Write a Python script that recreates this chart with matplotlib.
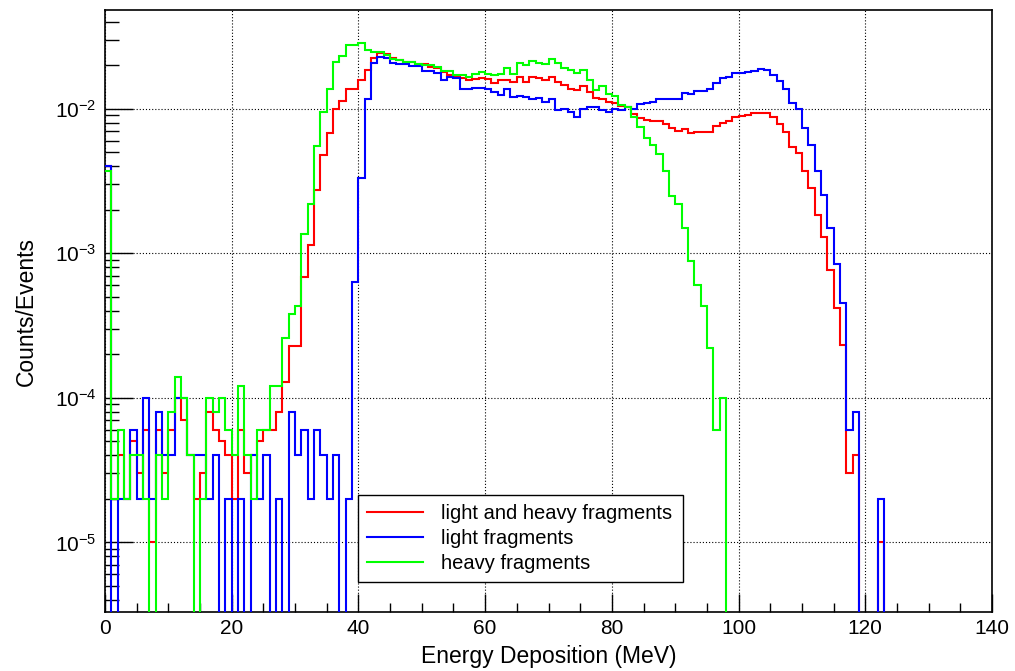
import numpy as np
import matplotlib
matplotlib.use("Agg")
import matplotlib.pyplot as plt
from matplotlib.ticker import LogLocator, MultipleLocator, NullFormatter

# ---------------- data (1 MeV bins, 0..140 MeV) ----------------
bin_edges = np.arange(0, 141, 1)

light_heavy = [
    4.0e-3, 2e-5, 4e-5, 2e-5, 5e-5, 3e-5, 6e-5, 1e-5, 6e-5, 3e-5,
    6e-5, 1e-4, 7e-5, 4e-5, 2e-5, 3e-5, 8e-5, 6e-5, 5e-5, 4e-5,
    2e-5, 6e-5, 3e-5, 4e-5, 5e-5, 6e-5, 6e-5, 8e-5, 1.29e-4, 2.29e-4,
    2.29e-4, 6.9e-4, 1.14e-3, 2.73e-3, 4.79e-3, 6.76e-3, 1.0e-2, 1.13e-2, 1.38e-2, 1.38e-2,
    1.58e-2, 1.85e-2, 2.23e-2, 2.42e-2, 2.39e-2, 2.26e-2, 2.17e-2, 2.1e-2, 2.1e-2, 2.04e-2,
    2.04e-2, 1.95e-2, 1.91e-2, 1.8e-2, 1.71e-2, 1.69e-2, 1.62e-2, 1.58e-2, 1.6e-2, 1.62e-2,
    1.6e-2, 1.51e-2, 1.58e-2, 1.58e-2, 1.54e-2, 1.65e-2, 1.54e-2, 1.66e-2, 1.62e-2, 1.58e-2,
    1.66e-2, 1.54e-2, 1.46e-2, 1.38e-2, 1.35e-2, 1.44e-2, 1.31e-2, 1.18e-2, 1.16e-2, 1.12e-2,
    1.1e-2, 1.04e-2, 1.02e-2, 9.2e-3, 8.6e-3, 8.3e-3, 8.2e-3, 8.2e-3, 7.8e-3, 7.3e-3,
    7.05e-3, 7.2e-3, 6.75e-3, 6.86e-3, 6.86e-3, 6.86e-3, 7.6e-3, 8.0e-3, 8.2e-3, 8.8e-3,
    8.9e-3, 9.1e-3, 9.3e-3, 9.3e-3, 9.3e-3, 8.7e-3, 7.8e-3, 6.86e-3, 5.46e-3, 4.96e-3,
    3.72e-3, 2.81e-3, 1.84e-3, 1.3e-3, 7.7e-4, 4.2e-4, 2.33e-4, 3e-5, 4e-5, 0,
    0, 0, 1e-5, 0, 0, 0, 0, 0, 0, 0,
    0, 0, 0, 0, 0, 0, 0, 0, 0, 0,
]

light = [
    4.0e-3, 0, 2e-5, 2e-5, 6e-5, 2e-5, 1e-4, 2e-5, 8e-5, 4e-5,
    4e-5, 1e-4, 1e-4, 4e-5, 4e-5, 4e-5, 2e-5, 4e-5, 0, 2e-5,
    0, 2e-5, 0, 4e-5, 2e-5, 4e-5, 0, 2e-5, 0, 8e-5,
    4e-5, 6e-5, 2e-5, 6e-5, 4e-5, 2e-5, 4e-5, 0, 2e-5, 6.35e-4,
    3.3e-3, 1.16e-2, 2.08e-2, 2.29e-2, 2.23e-2, 2.08e-2, 2.04e-2, 2.04e-2, 1.97e-2, 1.97e-2,
    1.82e-2, 1.82e-2, 1.76e-2, 1.58e-2, 1.66e-2, 1.64e-2, 1.38e-2, 1.38e-2, 1.4e-2, 1.4e-2,
    1.38e-2, 1.31e-2, 1.24e-2, 1.38e-2, 1.2e-2, 1.22e-2, 1.2e-2, 1.16e-2, 1.18e-2, 1.12e-2,
    1.16e-2, 9.8e-3, 9.9e-3, 9.5e-3, 8.8e-3, 1.0e-2, 1.02e-2, 1.02e-2, 9.8e-3, 9.5e-3,
    1.0e-2, 9.8e-3, 1.03e-2, 9.9e-3, 1.08e-2, 1.1e-2, 1.12e-2, 1.16e-2, 1.17e-2, 1.17e-2,
    1.17e-2, 1.29e-2, 1.27e-2, 1.33e-2, 1.33e-2, 1.36e-2, 1.51e-2, 1.62e-2, 1.67e-2, 1.76e-2,
    1.76e-2, 1.8e-2, 1.83e-2, 1.88e-2, 1.85e-2, 1.71e-2, 1.56e-2, 1.36e-2, 1.09e-2, 1.0e-2,
    7.3e-3, 5.6e-3, 3.72e-3, 2.55e-3, 1.5e-3, 8.4e-4, 4.55e-4, 6e-5, 8e-5, 0,
    0, 0, 2e-5, 0, 0, 0, 0, 0, 0, 0,
    0, 0, 0, 0, 0, 0, 0, 0, 0, 0,
]

heavy = [
    3.7e-3, 2e-5, 6e-5, 2e-5, 4e-5, 4e-5, 2e-5, 0, 4e-5, 2e-5,
    8e-5, 1.4e-4, 1e-4, 4e-5, 0, 2e-5, 1e-4, 8e-5, 1e-4, 6e-5,
    4e-5, 1.2e-4, 4e-5, 2e-5, 6e-5, 6e-5, 1.2e-4, 1.2e-4, 2.6e-4, 3.8e-4,
    4.3e-4, 1.36e-3, 2.2e-3, 5.5e-3, 9.5e-3, 1.38e-2, 2.11e-2, 2.32e-2, 2.76e-2, 2.76e-2,
    2.84e-2, 2.55e-2, 2.46e-2, 2.48e-2, 2.35e-2, 2.2e-2, 2.17e-2, 2.11e-2, 2.11e-2, 2.05e-2,
    2.0e-2, 2.0e-2, 1.95e-2, 1.83e-2, 1.83e-2, 1.71e-2, 1.71e-2, 1.66e-2, 1.74e-2, 1.79e-2,
    1.74e-2, 1.71e-2, 1.74e-2, 1.91e-2, 1.74e-2, 2.08e-2, 2.0e-2, 2.14e-2, 2.08e-2, 2.04e-2,
    2.2e-2, 2.06e-2, 1.92e-2, 1.85e-2, 1.78e-2, 1.85e-2, 1.58e-2, 1.35e-2, 1.44e-2, 1.26e-2,
    1.22e-2, 1.06e-2, 1.02e-2, 8.8e-3, 7.5e-3, 6.3e-3, 5.6e-3, 4.9e-3, 3.72e-3, 2.49e-3,
    2.19e-3, 1.5e-3, 8.8e-4, 6.0e-4, 4.3e-4, 2.2e-4, 6e-5, 1e-4, 0, 0,
    0, 0, 0, 0, 0, 0, 0, 0, 0, 0,
    0, 0, 0, 0, 0, 0, 0, 0, 0, 0,
    0, 0, 0, 0, 0, 0, 0, 0, 0, 0,
    0, 0, 0, 0, 0, 0, 0, 0, 0, 0,
]

series_labels = ["light and heavy fragments", "light fragments", "heavy fragments"]
series_colors = ["#ff0000", "#0000ff", "#00ff00"]
x_label = "Energy Deposition (MeV)"
y_label = "Counts/Events"

# ---------------- figure ----------------
plt.rcParams["font.family"] = ["Liberation Sans", "DejaVu Sans"]
plt.rcParams["mathtext.fontset"] = "custom"
plt.rcParams["mathtext.rm"] = "Liberation Sans"
plt.rcParams["mathtext.it"] = "Liberation Sans:italic"
plt.rcParams["mathtext.default"] = "regular"

W, H = 1015, 671
fig = plt.figure(figsize=(W / 100, H / 100), dpi=100)
L, R, T, B = 105, 992, 10, 612
ax = fig.add_axes([L / W, (H - B) / H, (R - L) / W, (B - T) / H])

handles = []
for vals, lab, col in zip([light_heavy, light, heavy], series_labels, series_colors):
    v = np.asarray(vals, dtype=float)
    v = np.where(v > 0, v, 1e-12)  # empty bins fall below the axis
    ax.stairs(v, bin_edges, baseline=None, color=col, linewidth=1.5, label=lab, zorder=3)
    handles.append(plt.Line2D([], [], color=col, linewidth=1.5))

ax.set_yscale("log")
ax.set_xlim(0, 140)
ax.set_ylim(3.3e-6, 0.0482)

ax.xaxis.set_major_locator(MultipleLocator(20))
ax.xaxis.set_minor_locator(MultipleLocator(5))
ax.yaxis.set_major_locator(LogLocator(base=10, numticks=20))
ax.yaxis.set_minor_locator(LogLocator(base=10, subs=np.arange(2, 10), numticks=20))
ax.yaxis.set_minor_formatter(NullFormatter())

ax.tick_params(axis="both", which="both", direction="in", top=False, right=False, color="black")
ax.tick_params(axis="y", which="major", length=20, width=1.0, labelsize=15, pad=6)
ax.tick_params(axis="y", which="minor", length=10, width=1.0)
ax.tick_params(axis="x", which="major", length=13, width=1.0, labelsize=15, pad=5)
ax.tick_params(axis="x", which="minor", length=6.5, width=1.0)

ax.grid(True, which="major", color="black", linestyle=(0, (1, 1.8)), linewidth=0.8, zorder=1)
ax.set_axisbelow(True)

for s in ax.spines.values():
    s.set_linewidth(1.2)
    s.set_color("black")

ax.set_xlabel(x_label, fontsize=16.5, labelpad=5)
ax.set_ylabel(y_label, fontsize=16.5, labelpad=12)

# legend box: x 358..683 px, y 495..583 px
lx0 = (358 - L) / (R - L)
lx1 = (683 - L) / (R - L)
ly1 = (B - 495) / (B - T)
leg = ax.legend(handles, series_labels, loc="upper left",
                bbox_to_anchor=(lx0, ly1 - 0.15, lx1 - lx0, 0.15), mode="expand",
                borderaxespad=0, fontsize=14.5, frameon=True, fancybox=False,
                edgecolor="black", framealpha=1, handlelength=2.8, handletextpad=0.85,
                labelspacing=0.3, borderpad=0.45)
leg.get_frame().set_linewidth(1.0)
leg.set_zorder(5)

fig.savefig("out.png", dpi=100)
